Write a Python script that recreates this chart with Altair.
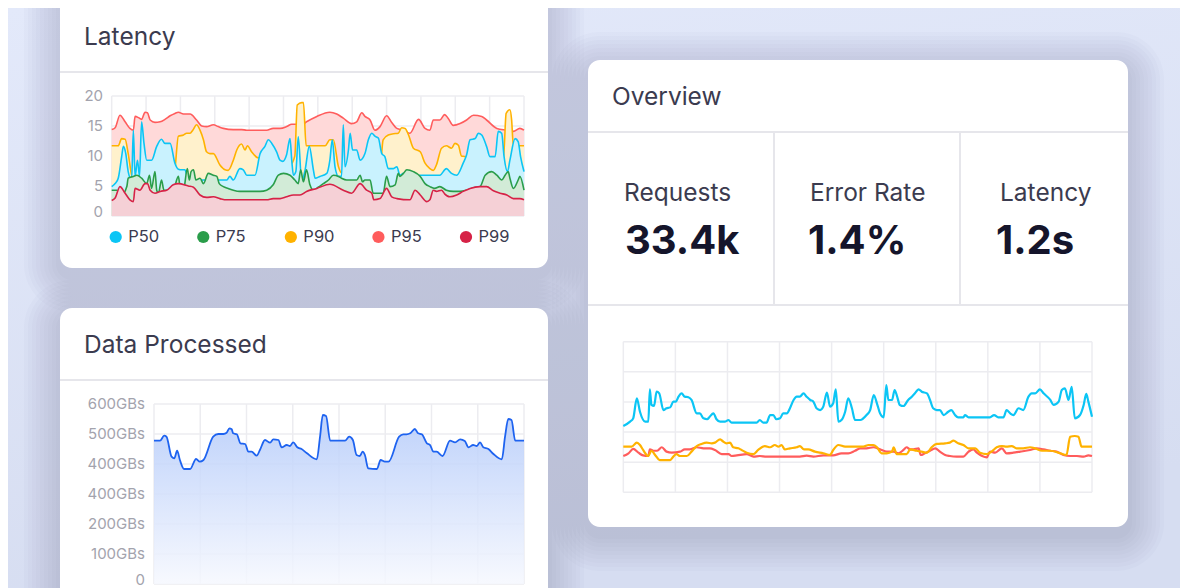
import altair as alt
import pandas as pd

# ---------------------------------------------------------------- data
series = ["P50", "P75", "P90", "P95", "P99"]
line_colors = ["#0BC5F5", "#2A9D4A", "#FFB200", "#FF5C5C", "#D62246"]
fill_colors = ["#C9F2FE", "#D2EBD7", "#FFF1CC", "#FFD9D9", "#F5D0D6"]

lat_p95 = [(0.00,14.4),(0.10,14.7),(0.24,16.8),(0.39,15.7),(0.53,14.6),(0.63,14.3),(0.68,16.6),(0.78,16.4),
           (0.87,16.1),(0.97,17.3),(1.04,17.2),(1.12,16.0),(1.26,15.6),(1.41,15.7),(1.55,16.1),(1.70,16.7),
           (1.84,17.1),(1.94,17.3),(2.09,17.0),(2.28,17.0),(2.47,16.0),(2.62,15.0),(2.76,14.9),(2.96,15.2),
           (3.10,14.9),(3.25,14.6),(3.54,14.4),(3.78,14.4),(3.93,14.3),(4.51,14.3),(4.70,14.6),(4.90,14.6),
           (5.09,14.9),(5.24,15.3),(5.38,15.3),(5.48,15.0),(5.67,15.7),(5.97,16.6),(6.35,17.3),(6.55,17.0),
           (6.74,16.3),(6.98,15.4),(7.13,15.7),(7.28,17.2),(7.37,16.6),(7.52,16.0),(7.66,14.3),(7.81,14.9),
           (8.00,16.7),(8.15,15.6),(8.30,14.6),(8.49,14.3),(8.68,13.8),(8.93,16.1),(9.12,14.6),(9.26,14.3),
           (9.36,16.0),(9.55,16.0),(9.69,16.9),(9.79,16.3),(9.94,15.1),(10.14,15.4),(10.33,16.0),(10.53,16.8),
           (10.77,16.6),(10.91,16.0),(11.21,14.6),(11.50,14.3),(11.69,14.1),(11.88,14.6),(12.00,14.3)]

lat_p90 = [(0.00,11.7),(0.19,11.7),(0.29,12.9),(0.39,12.8),(0.48,10.4),(0.58,6.8),(0.66,5.8),(1.78,5.8),
           (1.84,7.7),(1.94,13.3),(2.09,13.5),(2.18,13.8),(2.28,13.8),(2.36,14.3),(2.47,15.2),(2.57,14.3),
           (2.67,12.7),(2.76,10.7),(2.86,10.4),(2.96,10.4),(3.15,8.5),(3.30,7.7),(3.39,7.6),(3.54,9.3),
           (3.64,11.0),(3.78,12.0),(3.88,11.0),(3.95,11.7),(4.07,10.7),(4.22,9.8),(4.32,9.6),(4.45,8.6),
           (5.20,8.6),(5.33,10.0),(5.40,18.5),(5.53,18.9),(5.58,18.9),(5.66,11.7),(6.21,11.7),(6.35,12.7),
           (6.45,12.7),(6.60,8.2),(6.69,7.2),(7.80,7.2),(7.90,12.7),(8.05,13.5),(8.20,13.7),(8.34,13.8),
           (8.44,14.7),(8.54,14.6),(8.64,13.5),(8.78,11.3),(8.98,10.7),(9.12,8.8),(9.26,7.9),(9.36,7.6),
           (9.45,8.5),(9.60,11.3),(9.74,11.7),(9.89,11.3),(9.99,12.1),(10.09,11.8),(10.18,10.0),(10.28,9.9),
           (10.40,9.0),(11.38,9.0),(11.42,11.0),(11.48,17.1),(11.59,17.7),(11.64,16.0),(11.69,11.7),(12.00,11.7)]

lat_p50 = [(0.00,4.9),(0.10,5.4),(0.19,6.3),(0.29,9.9),(0.34,11.6),(0.41,10.4),(0.48,7.4),(0.58,6.0),
           (0.63,14.3),(0.68,6.6),(0.75,9.3),(0.81,6.6),(0.87,15.7),(0.94,12.1),(1.02,9.3),(1.16,9.3),
           (1.31,11.6),(1.45,12.8),(1.55,12.1),(1.70,12.1),(1.84,8.8),(1.94,7.8),(2.04,7.7),(2.13,7.7),
           (2.23,6.0),(2.38,6.0),(3.35,6.0),(3.44,6.6),(3.54,6.0),(3.73,7.9),(3.83,7.7),(3.93,6.8),
           (4.17,6.8),(4.32,10.4),(4.46,11.6),(4.56,12.7),(4.66,12.1),(4.80,10.7),(4.90,9.3),(4.98,9.1),
           (5.09,10.2),(5.19,12.9),(5.24,9.3),(5.29,6.8),(5.36,7.4),(5.43,13.2),(5.53,5.7),(5.63,7.7),
           (5.75,11.6),(5.87,7.7),(5.92,6.3),(6.06,6.6),(6.26,7.1),(6.35,9.3),(6.42,12.7),(6.50,8.2),
           (6.60,6.6),(6.69,6.6),(6.74,15.2),(6.79,8.2),(6.89,11.0),(6.94,13.8),(7.01,11.0),(7.13,11.0),
           (7.23,9.3),(7.37,10.4),(7.47,12.7),(7.57,13.8),(7.66,13.3),(7.76,13.0),(7.86,10.4),(7.95,9.9),
           (8.05,7.9),(8.20,7.9),(8.30,8.2),(8.39,6.8),(8.49,7.1),(8.59,7.0),(8.68,7.4),(8.78,6.8),
           (8.93,6.8),(9.55,6.8),(9.74,7.9),(9.89,7.1),(10.04,6.8),(10.23,8.8),(10.33,10.2),(10.43,12.7),
           (10.58,12.9),(10.67,13.8),(10.77,13.5),(10.91,11.6),(11.01,9.9),(11.16,9.9),(11.25,14.1),(11.35,13.8),
           (11.42,9.9),(11.52,7.4),(11.59,9.3),(11.74,12.9),(11.83,12.4),(11.90,9.9),(12.00,7.4)]

lat_p75 = [(0.00,4.3),(0.15,4.3),(0.29,3.5),(0.44,4.9),(0.48,6.3),(0.63,6.6),(0.73,6.8),(0.87,6.3),
           (1.02,5.4),(1.10,6.8),(1.16,4.6),(1.26,7.4),(1.31,4.3),(1.36,3.8),(1.45,6.0),(1.52,4.3),
           (1.79,4.3),(1.94,6.6),(1.99,4.9),(2.09,4.3),(2.20,7.9),(2.26,6.0),(2.31,7.4),(2.38,7.7),
           (2.45,6.0),(2.57,6.3),(2.67,5.4),(2.81,7.1),(2.96,6.8),(3.06,6.6),(3.13,5.4),(3.25,4.9),
           (3.39,4.6),(3.54,4.3),(3.73,4.1),(4.32,4.1),(4.51,4.3),(4.70,5.2),(4.85,6.8),(5.00,7.1),
           (5.19,6.8),(5.33,6.0),(5.43,5.4),(5.50,7.7),(5.58,5.7),(5.67,7.7),(5.77,5.2),(5.87,4.3),
           (6.01,4.8),(6.16,5.4),(6.31,6.0),(6.45,6.8),(6.60,6.6),(6.69,6.3),(6.84,6.0),(7.13,6.0),
           (7.23,6.8),(7.30,5.7),(7.37,6.0),(7.52,6.0),(7.61,3.8),(7.90,3.8),(8.00,6.6),(8.10,4.9),
           (8.25,5.2),(8.34,7.1),(8.39,6.6),(8.49,7.1),(8.59,7.7),(8.78,7.4),(8.98,6.6),(9.12,5.4),
           (9.26,4.9),(9.40,4.6),(9.55,4.9),(9.74,4.3),(9.94,4.1),(10.14,4.1),(10.33,4.3),(10.53,4.7),
           (10.72,4.9),(10.87,6.8),(11.06,7.4),(11.21,6.8),(11.35,6.0),(11.45,6.8),(11.54,7.4),(11.59,6.3),
           (11.69,4.6),(11.83,6.0),(11.88,6.6),(12.00,4.3)]

lat_p99 = [(0.00,2.6),(0.10,3.0),(0.24,4.9),(0.39,3.8),(0.53,2.7),(0.63,2.4),(0.68,4.6),(0.82,4.3),
           (0.97,5.4),(1.04,5.4),(1.12,4.3),(1.26,3.8),(1.41,4.1),(1.60,4.3),(1.79,5.2),(1.94,5.4),
           (2.23,5.0),(2.38,4.8),(2.57,3.5),(2.76,3.1),(2.96,3.2),(3.15,2.9),(3.35,2.7),(4.51,2.7),
           (4.70,2.9),(4.90,2.9),(5.09,3.2),(5.29,3.5),(5.48,3.5),(5.67,4.1),(5.97,4.6),(6.35,5.3),
           (6.74,4.3),(6.98,3.8),(7.23,5.4),(7.42,4.3),(7.57,3.8),(7.63,2.7),(7.81,2.9),(8.00,4.6),
           (8.15,3.2),(8.30,2.9),(8.68,2.7),(8.83,4.3),(8.98,3.5),(9.17,2.4),(9.26,2.7),(9.36,4.3),
           (9.45,4.1),(9.60,4.3),(9.69,3.7),(9.84,3.2),(10.04,3.5),(10.23,4.1),(10.43,4.6),(10.72,4.9),
           (10.91,4.9),(11.11,4.2),(11.30,3.8),(11.50,3.5),(11.69,2.9),(11.88,2.9),(12.00,2.7)]

lat_yticks = [0, 5, 10, 15, 20]
lat_xticks = list(range(13))

data_gb = [(0.00,477.7),(0.13,477.7),(0.22,494.3),(0.27,491),(0.38,424.3),(0.44,419),(0.50,444.3),
           (0.56,413.3),(0.65,383.3),(0.78,383.3),(0.91,416.7),(0.99,407.7),(1.07,413.3),(1.28,491),
           (1.39,500),(1.50,500),(1.57,504.3),(1.63,519),(1.68,515.7),(1.71,502.3),(1.79,499),(1.87,469),
           (1.97,466.7),(2.04,441),(2.11,441),(2.22,427.7),(2.29,446.7),(2.40,480),(2.51,471),(2.58,482.3),
           (2.69,480),(2.76,455.7),(2.87,463.3),(2.94,460),(3.01,472.3),(3.10,455.7),(3.19,450),(3.30,436.7),
           (3.52,415.7),(3.59,491),(3.65,563.3),(3.72,560),(3.81,477.7),(4.13,477.7),(4.22,491),(4.30,480),
           (4.38,430),(4.45,426.7),(4.51,441),(4.56,430),(4.63,385.7),(4.82,383.3),(4.90,413.3),(4.99,407.7),
           (5.07,407.7),(5.30,491),(5.39,499),(5.46,499),(5.54,502.3),(5.64,516.7),(5.71,502.3),(5.79,499),
           (5.90,469),(5.97,463.3),(6.04,441),(6.11,441),(6.24,426.7),(6.40,477.7),(6.51,472.3),(6.62,482.3),
           (6.72,476.7),(6.80,455.7),(6.90,463.3),(6.98,460),(7.05,472.3),(7.12,455.7),(7.23,450),(7.34,433.3),
           (7.52,415.7),(7.59,491),(7.66,550),(7.73,546.7),(7.81,477.7),(8.00,477.7)]
gb_ticks = [0, 100, 200, 300, 400, 500, 600]
gb_labels = ["0", "100GBs", "200GBs", "400GBs", "400GBs", "500GBs", "600GBs"]
gb_xticks = list(range(9))

ov_cyan = [(0,44.0),(0.13,46.9),(0.19,49.1),(0.26,62.4),(0.32,53.5),(0.42,46.9),(0.48,46.9),(0.51,68.4),
           (0.54,58.0),(0.59,57.3),(0.64,66.8),(0.69,65.7),(0.77,54.6),(0.83,55.8),(0.90,56.4),(0.96,60.2),
           (1.01,60.2),(1.06,63.5),(1.12,65.7),(1.18,63.5),(1.25,63.1),(1.31,61.3),(1.41,52.4),(1.47,52.4),
           (1.54,49.1),(1.61,48.5),(1.66,50.2),(1.73,52.4),(1.79,48.5),(1.86,46.9),(1.95,46.9),(2.02,48.0),
           (2.08,46.2),(2.56,46.2),(2.62,48.0),(2.69,46.2),(2.75,46.2),(2.82,51.3),(2.88,51.3),(2.94,48.5),
           (3.01,49.1),(3.07,52.4),(3.14,52.4),(3.20,55.8),(3.27,61.3),(3.33,63.5),(3.39,63.5),(3.46,65.7),
           (3.52,63.5),(3.59,61.3),(3.65,60.2),(3.71,55.8),(3.78,54.6),(3.84,56.9),(3.91,66.2),(3.97,56.9),
           (4.03,59.1),(4.08,68.4),(4.13,46.9),(4.19,48.0),(4.26,53.5),(4.32,62.4),(4.39,55.8),(4.45,48.0),
           (4.55,48.0),(4.67,51.3),(4.74,54.6),(4.81,64.6),(4.87,59.1),(4.93,52.4),(5.00,49.8),(5.05,71.2),
           (5.09,61.3),(5.16,61.3),(5.21,67.9),(5.25,64.6),(5.31,58.0),(5.38,57.3),(5.47,61.3),(5.54,63.5),
           (5.60,65.7),(5.67,68.4),(5.73,66.8),(5.83,65.7),(5.89,61.3),(5.95,55.8),(6.02,54.6),(6.08,54.6),
           (6.15,51.3),(6.24,53.5),(6.30,54.6),(6.37,51.3),(6.43,49.8),(6.53,49.8),(6.56,51.3),(6.63,49.8),
           (7.04,49.8),(7.12,51.3),(7.20,49.8),(7.30,49.8),(7.36,54.6),(7.43,52.4),(7.49,51.3),(7.59,55.8),
           (7.68,54.6),(7.78,63.5),(7.84,65.7),(7.91,65.7),(8.00,68.4),(8.07,65.7),(8.20,61.3),(8.26,58.0),
           (8.36,60.2),(8.42,67.9),(8.48,69.0),(8.55,61.3),(8.61,70.1),(8.67,49.1),(8.77,51.3),(8.84,58.0),
           (8.89,65.3),(8.93,60.2),(9.00,50.2)]

ov_yellow = [(0,30.3),(0.16,30.3),(0.26,33.0),(0.32,31.4),(0.38,28.1),(0.48,24.1),(0.54,27.6),(0.61,24.8),
             (0.70,21.4),(0.90,21.4),(0.96,23.7),(1.02,25.4),(1.09,24.1),(1.22,24.1),(1.31,27.0),(1.41,30.7),
             (1.50,32.1),(1.60,33.0),(1.70,32.5),(1.76,33.0),(1.86,35.2),(1.92,33.6),(1.98,32.5),(2.05,33.0),
             (2.11,29.9),(2.21,29.2),(2.27,28.1),(2.37,26.3),(2.50,25.4),(2.59,28.1),(2.72,30.7),(2.82,29.9),
             (2.91,31.4),(2.98,30.3),(3.04,31.4),(3.10,28.5),(3.20,29.2),(3.33,29.9),(3.39,30.7),(3.47,28.5),
             (3.55,28.5),(3.68,27.0),(3.84,25.9),(3.97,24.8),(4.03,28.1),(4.13,31.4),(4.26,30.3),(4.61,30.3),
             (4.71,31.4),(4.80,31.4),(4.87,29.9),(4.96,25.9),(5.06,25.9),(5.16,27.0),(5.19,29.9),(5.25,25.4),
             (5.44,25.4),(5.51,28.5),(5.63,27.6),(5.73,27.0),(5.83,26.3),(5.92,29.9),(6.02,32.1),(6.18,32.5),
             (6.27,33.0),(6.34,34.3),(6.43,32.5),(6.53,31.4),(6.63,29.2),(6.76,29.2),(6.85,26.3),(6.98,25.4),
             (7.11,28.1),(7.17,29.9),(7.27,30.7),(7.36,30.3),(7.46,30.7),(7.55,29.2),(7.68,29.2),(7.81,29.9),
             (7.91,29.2),(8.04,27.6),(8.20,27.6),(8.39,25.9),(8.51,24.8),(8.58,36.9),(8.67,37.4),(8.74,36.9),
             (8.80,30.3),(9.00,30.3)]

ov_red = [(0,24.1),(0.10,25.9),(0.19,28.8),(0.29,26.3),(0.38,24.5),(0.48,24.1),(0.51,28.5),(0.58,27.6),
          (0.65,27.6),(0.74,29.9),(0.83,27.0),(0.93,26.3),(1.09,27.0),(1.18,28.5),(1.28,28.5),(1.41,29.9),
          (1.54,29.2),(1.66,29.2),(1.76,28.1),(1.89,25.4),(2.02,25.4),(2.08,24.1),(2.18,24.5),(2.37,25.4),
          (2.50,23.7),(2.62,24.1),(2.75,23.7),(3.39,23.7),(3.52,24.3),(3.65,23.7),(3.84,24.5),(4.03,24.5),
          (4.19,25.9),(4.32,25.9),(4.45,27.6),(4.55,29.2),(4.67,29.2),(4.80,29.9),(4.93,28.5),(5.06,27.0),
          (5.19,27.0),(5.28,25.9),(5.38,28.1),(5.44,29.9),(5.51,28.5),(5.57,28.5),(5.67,29.2),(5.71,24.8),
          (5.79,25.9),(5.89,27.6),(5.99,29.2),(6.08,27.0),(6.18,24.8),(6.27,24.1),(6.40,23.7),(6.53,23.7),
          (6.63,27.0),(6.72,28.5),(6.79,26.3),(6.89,24.1),(6.98,23.2),(7.04,27.0),(7.14,26.3),(7.27,29.2),
          (7.36,25.9),(7.49,26.3),(7.62,27.0),(7.81,28.1),(7.94,29.2),(8.07,28.5),(8.20,27.6),(8.32,27.0),
          (8.45,24.8),(8.58,24.1),(8.71,24.1),(8.84,23.7),(8.93,24.5),(9.00,24.1)]
ov_yticks = [0, 20, 40, 60, 80, 100]
ov_xticks = list(range(10))

stat_names = ["Requests", "Error Rate", "Latency"]
stat_values = ["33.4k", "1.4%", "1.2s"]

# ---------------------------------------------------------------- layout helpers
OFF = 8          # page margin: screen pixel -> chart pixel
def p(v):
    return v - OFF

FONT = "Inter"
TXT = "#3B3B4F"
NUM = "#15152B"
TICK = "#A3A3AD"
GRID = "#ECECF0"
DIV = "#E6E6EB"
ONE = pd.DataFrame({"k": [0]})


def df(pairs, a="t", b="v"):
    return pd.DataFrame(pairs, columns=[a, b])


def qscale(domain, rng):
    return alt.Scale(domain=domain, range=rng, nice=False, zero=False)


def rect(x0, y0, x1, y1, color, radius=0, opacity=1.0):
    return alt.Chart(ONE).mark_rect(color=color, cornerRadius=radius, opacity=opacity).encode(
        x=alt.value(p(x0)), x2=alt.value(p(x1)), y=alt.value(p(y0)), y2=alt.value(p(y1)))


def hrule(x0, x1, y, color=DIV, w=2):
    return alt.Chart(ONE).mark_rule(color=color, strokeWidth=w).encode(
        x=alt.value(p(x0)), x2=alt.value(p(x1)), y=alt.value(p(y)))


def vrule(x, y0, y1, color=DIV, w=2):
    return alt.Chart(ONE).mark_rule(color=color, strokeWidth=w).encode(
        x=alt.value(p(x)), y=alt.value(p(y0)), y2=alt.value(p(y1)))


def label(text, x, y, size, color=TXT, weight=400):
    return alt.Chart(ONE).mark_text(text=text, font=FONT, fontSize=size, color=color,
                                    fontWeight=weight, align="left", baseline="middle").encode(
        x=alt.value(p(x)), y=alt.value(p(y)))


def shadow(x0, y0, x1, y1):
    out = []
    for i in range(1, 10):
        s = i * 4
        out.append(rect(x0 - s, y0 - s + 8, x1 + s, y1 + s + 8, "#4A5580", 12 + s, 0.022))
    return out


W, H = 1172, 580
layers = []

# background
layers.append(alt.Chart(ONE).mark_rect(color=alt.Gradient(
    gradient="linear", x1=0, x2=0.3, y1=0, y2=1,
    stops=[alt.GradientStop(color="#E3E9FA", offset=0), alt.GradientStop(color="#D6DDF1", offset=1)]
)).encode(x=alt.value(0), x2=alt.value(W), y=alt.value(0), y2=alt.value(H)))

# cards
CARD_LAT = (60, -40, 548, 268)
CARD_DP = (60, 308, 548, 640)
CARD_OV = (588, 60, 1128, 527)
for c in (CARD_LAT, CARD_DP, CARD_OV):
    layers += shadow(*c)
for c in (CARD_LAT, CARD_DP, CARD_OV):
    layers.append(rect(*c, "#FFFFFF", 12))

# card furniture
layers += [
    hrule(60, 548, 72), hrule(60, 548, 380),
    hrule(588, 1128, 132), hrule(588, 1128, 305),
    vrule(774, 132, 305), vrule(960, 132, 305),
    label("Latency", 84, 38, 24.5), label("Data Processed", 84, 346, 24.5), label("Overview", 612, 98, 24.5),
]
for name, x in zip(stat_names, [624, 810, 1000]):
    layers.append(label(name, x, 194, 24.5))
for val, x in zip(stat_values, [625, 808, 996]):
    layers.append(label(val, x, 242, 40, NUM, 700))

# ---------------------------------------------------------------- Latency chart
LX = dict(domain=[0, 12], rng=[p(111.7), p(524)])
LY = dict(domain=[0, 20], rng=[p(216), p(96)])


def lx(f="t"):
    return alt.X(f + ":Q", scale=qscale(LX["domain"], LX["rng"]), axis=None)


def ly(f="v"):
    return alt.Y(f + ":Q", scale=qscale(LY["domain"], LY["rng"]), axis=None)


layers.append(alt.Chart(pd.DataFrame({"t": lat_xticks})).mark_rule(color=GRID, strokeWidth=1.5).encode(
    x=lx(), y=alt.value(p(96)), y2=alt.value(p(216))))
layers.append(alt.Chart(pd.DataFrame({"v": lat_yticks})).mark_rule(color=GRID, strokeWidth=1.5).encode(
    y=ly(), x=alt.value(p(111.7)), x2=alt.value(p(524))))

lat_data = {"P50": lat_p50, "P75": lat_p75, "P90": lat_p90, "P95": lat_p95, "P99": lat_p99}
for s in ["P95", "P90", "P50", "P75", "P99"]:
    i = series.index(s)
    d = df(lat_data[s])
    layers.append(alt.Chart(d).mark_area(color=fill_colors[i], interpolate="monotone").encode(x=lx(), y=ly()))
    layers.append(alt.Chart(d).mark_line(color=line_colors[i], strokeWidth=1.6, interpolate="monotone").encode(
        x=lx(), y=ly()))

lat_tick_df = pd.DataFrame({"v": lat_yticks, "lab": [str(v) for v in lat_yticks]})
layers.append(alt.Chart(lat_tick_df[lat_tick_df.v > 0]).mark_text(
    font=FONT, fontSize=15, color=TICK, align="right", baseline="middle").encode(
    y=ly(), x=alt.value(p(103)), text="lab:N"))
layers.append(alt.Chart(lat_tick_df[lat_tick_df.v == 0]).mark_text(
    font=FONT, fontSize=15, color=TICK, align="right", baseline="middle", dy=-4).encode(
    y=ly(), x=alt.value(p(103)), text="lab:N"))

leg = pd.DataFrame({"s": series})
leg_x = alt.X("s:N", scale=alt.Scale(type="point", domain=series, range=[p(115.7), p(466)], padding=0), axis=None)
layers.append(alt.Chart(leg).mark_point(filled=True, size=150, opacity=1).encode(
    x=leg_x, y=alt.value(p(237)),
    color=alt.Color("s:N", scale=alt.Scale(domain=series, range=line_colors), legend=None)))
layers.append(alt.Chart(leg).mark_text(font=FONT, fontSize=16.5, color=TXT, align="left", baseline="middle", dx=12.5).encode(
    x=leg_x, y=alt.value(p(237)), text="s:N"))

# ---------------------------------------------------------------- Data Processed chart
def gx(f="t"):
    return alt.X(f + ":Q", scale=qscale([0, 8], [p(154), p(524)]), axis=None)


def gy(f="v"):
    return alt.Y(f + ":Q", scale=qscale([0, 600], [p(584), p(404)]), axis=None)


layers.append(alt.Chart(pd.DataFrame({"t": gb_xticks})).mark_rule(color=GRID, strokeWidth=1.5).encode(
    x=gx(), y=alt.value(p(404)), y2=alt.value(p(584))))
layers.append(alt.Chart(pd.DataFrame({"v": gb_ticks})).mark_rule(color=GRID, strokeWidth=1.5).encode(
    y=gy(), x=alt.value(p(154)), x2=alt.value(p(524))))
gdf = df(data_gb)
layers.append(alt.Chart(gdf).mark_area(interpolate="monotone", opacity=0.85, color=alt.Gradient(
    gradient="linear", x1=0, x2=0, y1=0, y2=1,
    stops=[alt.GradientStop(color="#B3CAFA", offset=0), alt.GradientStop(color="#F6F8FE", offset=1)]
)).encode(x=gx(), y=gy()))
layers.append(alt.Chart(gdf).mark_line(color="#1E63F0", strokeWidth=1.8, interpolate="monotone").encode(x=gx(), y=gy()))
gb_tick_df = pd.DataFrame({"v": gb_ticks, "lab": gb_labels})
layers.append(alt.Chart(gb_tick_df[gb_tick_df.v > 0]).mark_text(
    font=FONT, fontSize=15, color=TICK, align="right", baseline="middle").encode(
    y=gy(), x=alt.value(p(145)), text="lab:N"))
layers.append(alt.Chart(gb_tick_df[gb_tick_df.v == 0]).mark_text(
    font=FONT, fontSize=15, color=TICK, align="right", baseline="middle", dy=-4).encode(
    y=gy(), x=alt.value(p(145)), text="lab:N"))

# ---------------------------------------------------------------- Overview chart
def ox(f="t"):
    return alt.X(f + ":Q", scale=qscale([0, 9], [p(623.3), p(1092)]), axis=None)


def oy(f="v"):
    return alt.Y(f + ":Q", scale=qscale([0, 100], [p(492.3), p(341.7)]), axis=None)


layers.append(alt.Chart(pd.DataFrame({"t": ov_xticks})).mark_rule(color=GRID, strokeWidth=1.5).encode(
    x=ox(), y=alt.value(p(341.7)), y2=alt.value(p(492.3))))
layers.append(alt.Chart(pd.DataFrame({"v": ov_yticks})).mark_rule(color=GRID, strokeWidth=1.5).encode(
    y=oy(), x=alt.value(p(623.3)), x2=alt.value(p(1092))))
for pairs, col in [(ov_red, "#FF5C5C"), (ov_yellow, "#FFB200"), (ov_cyan, "#0BC5F5")]:
    layers.append(alt.Chart(df(pairs)).mark_line(color=col, strokeWidth=2.2, interpolate="monotone").encode(
        x=ox(), y=oy()))

chart = alt.layer(*layers).resolve_scale(
    x="independent", y="independent", color="independent"
).properties(
    width=W, height=H, autosize=alt.AutoSizeParams(type="none"), padding=0
).configure(background="#DDE4F6").configure_view(stroke=None)

chart.save("out.html", embed_options={"renderer": "svg", "actions": False})
